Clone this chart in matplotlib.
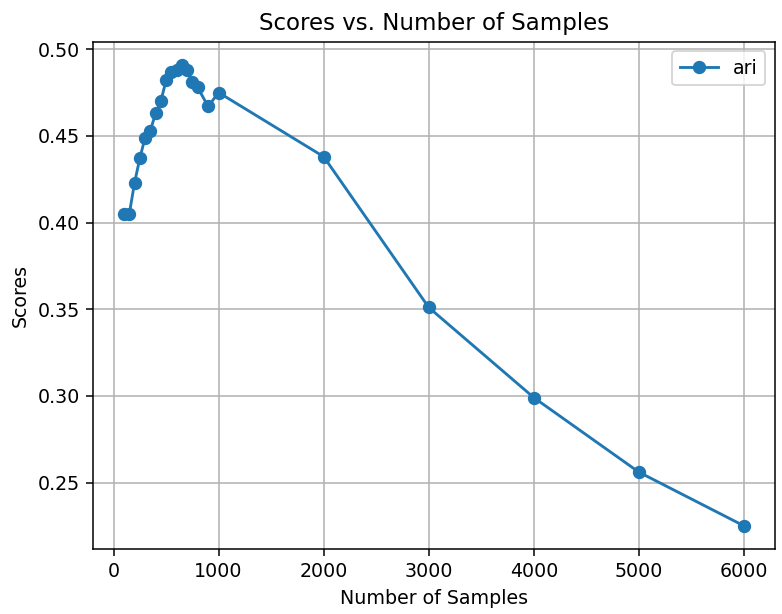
import matplotlib
matplotlib.use('Agg')
import matplotlib.pyplot as plt

# ARI score for each sample count
n_samples = [100, 150, 200, 250, 300, 350, 400, 450, 500, 550, 600, 650, 700,
             750, 800, 900, 1000, 2000, 3000, 4000, 5000, 6000]
ari = [0.405, 0.405, 0.423, 0.437, 0.449, 0.453, 0.463, 0.470, 0.482, 0.487,
       0.488, 0.491, 0.488, 0.481, 0.478, 0.467, 0.475, 0.438, 0.351, 0.299,
       0.256, 0.225]

dpi = 137
fig, ax = plt.subplots(figsize=(782 / dpi, 614 / dpi), dpi=dpi)
ax.plot(n_samples, ari, marker='o', label='ari')
ax.set_title('Scores vs. Number of Samples')
ax.set_xlabel('Number of Samples')
ax.set_ylabel('Scores')
ax.grid(True)
ax.legend()

plt.subplots_adjust(left=0.119, right=0.991, top=0.932, bottom=0.106)
plt.savefig('out.png', dpi=dpi)
